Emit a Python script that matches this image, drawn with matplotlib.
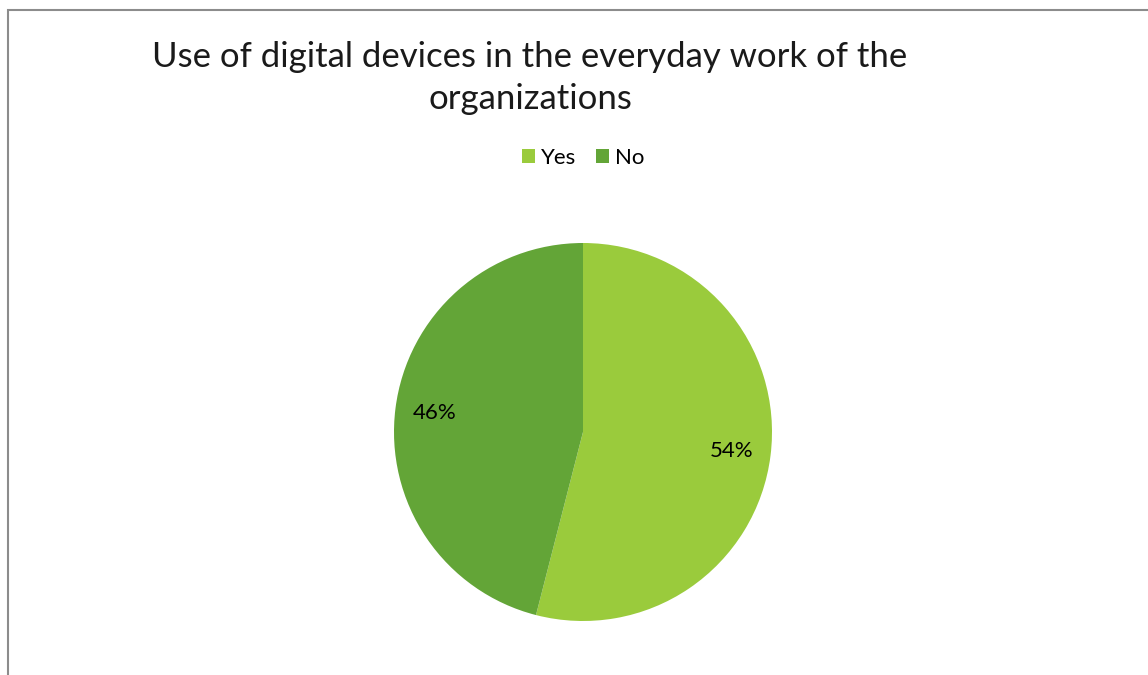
import matplotlib
matplotlib.use("Agg")
import matplotlib.pyplot as plt
from matplotlib.patches import Rectangle

plt.rcParams['font.family'] = ['Lato', 'DejaVu Sans']

labels = ['Yes', 'No']
shares = [54, 46]
colors = ['#9ACB3C', '#63A537']

W, H = 1148, 675
fig = plt.figure(figsize=(W / 100, H / 100), dpi=100)

# chart frame: only the top and left edges fall inside the image
fig.add_artist(Rectangle((7.5 / W, -0.1), 1.2, 1.1 - 10.5 / H, transform=fig.transFigure,
                         fill=False, edgecolor='#8c8c8c', linewidth=1.5))

cx, cy, r = 583, 432, 189
ax = fig.add_axes([(cx - r) / W, (H - cy - r) / H, 2 * r / W, 2 * r / H])
wedges, _, autotexts = ax.pie(shares, colors=colors, startangle=90, counterclock=False,
                              autopct='%d%%', pctdistance=0.79,
                              wedgeprops=dict(linewidth=0))
for t in autotexts:
    t.set_fontsize(16)
    t.set_color('black')
ax.set_xlim(-1, 1)
ax.set_ylim(-1, 1)
ax.set_aspect('equal')

fig.text(530 / W, 1 - 78 / H, 'Use of digital devices in the everyday work of the\norganizations',
         ha='center', va='center', fontsize=25, color='#1a1a1a', linespacing=1.4)

fig.legend(wedges, labels, loc='center', bbox_to_anchor=(583 / W, 1 - 158 / H), ncol=2,
           frameon=False, fontsize=16, handlelength=0.6, handleheight=0.6,
           handletextpad=0.25, columnspacing=0.9)

fig.savefig('out.png', dpi=100)
